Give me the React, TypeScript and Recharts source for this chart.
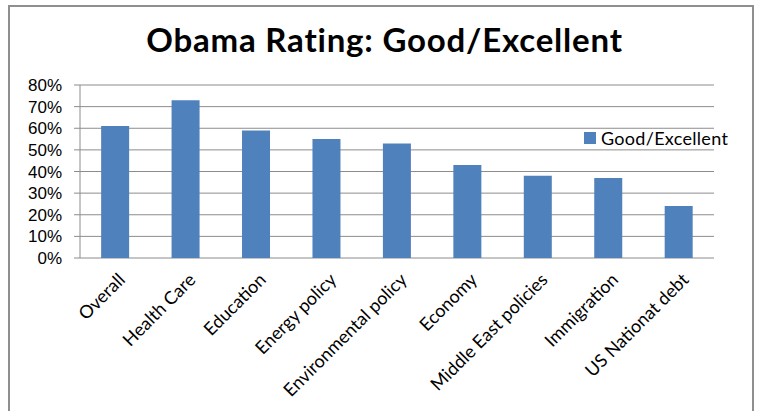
import { Bar, BarChart, CartesianGrid, XAxis, YAxis } from 'recharts'

const categories = [
  'Overall',
  'Health Care',
  'Education',
  'Energy policy',
  'Environmental policy',
  'Economy',
  'Middle East policies',
  'Immigration',
  'US Nationat debt',
]
const goodExcellent = [61, 73, 59, 55, 53, 43, 38, 37, 24]
const yTicks = [0, 10, 20, 30, 40, 50, 60, 70, 80]
const seriesName = 'Good/Excellent'
const title = 'Obama Rating: Good/Excellent'

const data = categories.map((name, i) => ({ name, value: goodExcellent[i] }))
const edgeTicks = categories.map((_, i) => i).concat(categories.length)

const GRID = '#8c8c8c'
const BLUE = '#4f81bd'
const LABEL_FONT = 'Lato, "Open Sans", sans-serif'

function CategoryTick({ x, y, payload }: any) {
  const ax = x + 6
  const ay = y + 10
  return (
    <text
      x={ax}
      y={ay}
      transform={`rotate(-45, ${ax}, ${ay})`}
      textAnchor="end"
      dominantBaseline="central"
      fontFamily={LABEL_FONT}
      fontSize={18}
      fill="#000"
    >
      {payload.value}
    </text>
  )
}

export default function App() {
  return (
    <div style={{ position: 'absolute', left: 0, top: 0, width: 757, height: 411, background: '#fff', overflow: 'hidden' }}>
      <div
        style={{
          position: 'absolute',
          left: 8,
          top: 5,
          width: 742,
          height: 410,
          border: '2px solid #8f8f8f',
          borderBottom: 'none',
        }}
      />
      <div
        style={{
          position: 'absolute',
          left: 6,
          top: 19,
          width: 757,
          textAlign: 'center',
          fontFamily: LABEL_FONT,
          fontWeight: 700,
          fontSize: 33,
          letterSpacing: 0.8,
          lineHeight: '40px',
          color: '#000',
        }}
      >
        {title}
      </div>
      <div style={{ position: 'absolute', left: 0, top: 0 }}>
        <BarChart
          width={757}
          height={411}
          data={data}
          margin={{ top: 85, right: 43, bottom: 123, left: 0 }}
          barCategoryGap="30%"
        >
          <CartesianGrid vertical={false} stroke={GRID} strokeWidth={1} xAxisId="cat" />
          {/* second axis only to put tick marks on the category boundaries */}
          <XAxis
            xAxisId="edges"
            type="number"
            domain={[0, categories.length]}
            ticks={edgeTicks}
            tickFormatter={() => ''}
            tickSize={6}
            height={0}
            stroke={GRID}
            allowDataOverflow
          />
          <XAxis
            xAxisId="cat"
            dataKey="name"
            axisLine={false}
            tickLine={false}
            interval={0}
            height={30}
            tick={<CategoryTick />}
          />
          <YAxis
            width={80}
            domain={[0, 80]}
            ticks={yTicks}
            interval={0}
            tickFormatter={(v: number) => `${v}%`}
            tickSize={6}
            tickMargin={12}
            stroke={GRID}
            tick={{ fill: '#000', fontSize: 17, fontFamily: '"Liberation Sans", Arial, sans-serif' }}
          />
          <Bar dataKey="value" name={seriesName} fill={BLUE} xAxisId="cat" isAnimationActive={false} />
        </BarChart>
      </div>
      <div
        style={{
          position: 'absolute',
          left: 584,
          top: 127,
          height: 22,
          display: 'flex',
          alignItems: 'center',
          gap: 5,
          fontFamily: LABEL_FONT,
          fontSize: 18,
          letterSpacing: 0.3,
          color: '#000',
        }}
      >
        <span style={{ width: 12, height: 12, background: BLUE, display: 'inline-block' }} />
        {seriesName}
      </div>
    </div>
  )
}
